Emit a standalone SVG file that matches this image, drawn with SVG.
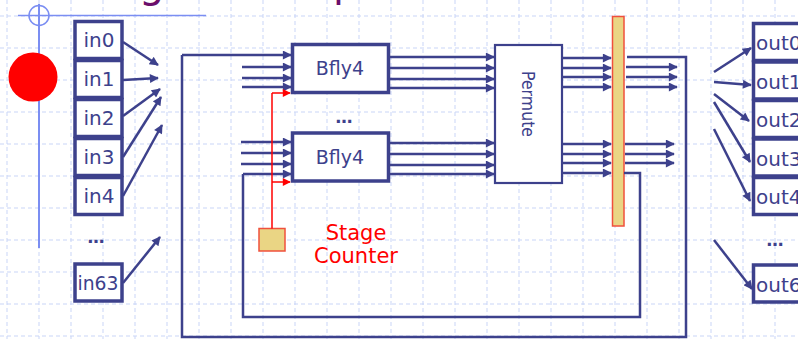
<svg xmlns="http://www.w3.org/2000/svg" width="798" height="339" viewBox="0 0 798 339">
<style>
.grid line{stroke:#c9d5f7;stroke-width:1;stroke-dasharray:4 3}
.box{fill:#fff;stroke:#3d418c;stroke-width:3.5}
.lbl{font-family:"DejaVu Sans",Verdana,sans-serif;font-size:20px;fill:#3d418c}
.blbl{font-family:"DejaVu Sans",Verdana,sans-serif;font-size:19px;fill:#3d418c;text-anchor:middle}
.w{stroke:#3d418c;stroke-width:2.5;fill:none}
.wa{stroke:#3d418c;stroke-width:2.5;fill:none;marker-end:url(#ah)}
.ra{stroke:#ff0000;stroke-width:1.5;fill:none}
.dots{font-family:"DejaVu Sans",Verdana,sans-serif;font-size:17px;font-weight:bold;fill:#3d418c;text-anchor:middle}
.reg{fill:#ead584;stroke:#f0503c;stroke-width:1.5}
</style>
<defs>
<marker id="ah" viewBox="0 0 10 10" refX="9" refY="5" markerWidth="11" markerHeight="9" markerUnits="userSpaceOnUse" orient="auto">
<path d="M0,0 L10,5 L0,10 z" fill="#3d418c"/>
</marker>
<marker id="rh" viewBox="0 0 10 10" refX="9" refY="5" markerWidth="10" markerHeight="8" markerUnits="userSpaceOnUse" orient="auto">
<path d="M0,0 L10,5 L0,10 z" fill="#ff0000"/>
</marker>
</defs>
<rect width="798" height="339" fill="#ffffff"/>
<g class="grid">
<line x1="7" y1="0" x2="7" y2="339"/><line x1="39" y1="0" x2="39" y2="339"/><line x1="71" y1="0" x2="71" y2="339"/><line x1="103" y1="0" x2="103" y2="339"/><line x1="135" y1="0" x2="135" y2="339"/><line x1="167" y1="0" x2="167" y2="339"/><line x1="199" y1="0" x2="199" y2="339"/><line x1="231" y1="0" x2="231" y2="339"/><line x1="263" y1="0" x2="263" y2="339"/><line x1="295" y1="0" x2="295" y2="339"/><line x1="327" y1="0" x2="327" y2="339"/><line x1="359" y1="0" x2="359" y2="339"/><line x1="391" y1="0" x2="391" y2="339"/><line x1="423" y1="0" x2="423" y2="339"/><line x1="455" y1="0" x2="455" y2="339"/><line x1="487" y1="0" x2="487" y2="339"/><line x1="519" y1="0" x2="519" y2="339"/><line x1="551" y1="0" x2="551" y2="339"/><line x1="583" y1="0" x2="583" y2="339"/><line x1="615" y1="0" x2="615" y2="339"/><line x1="647" y1="0" x2="647" y2="339"/><line x1="679" y1="0" x2="679" y2="339"/><line x1="711" y1="0" x2="711" y2="339"/><line x1="743" y1="0" x2="743" y2="339"/><line x1="775" y1="0" x2="775" y2="339"/>
<line x1="0" y1="16" x2="798" y2="16"/><line x1="0" y1="48" x2="798" y2="48"/><line x1="0" y1="80" x2="798" y2="80"/><line x1="0" y1="112" x2="798" y2="112"/><line x1="0" y1="144" x2="798" y2="144"/><line x1="0" y1="176" x2="798" y2="176"/><line x1="0" y1="208" x2="798" y2="208"/><line x1="0" y1="240" x2="798" y2="240"/><line x1="0" y1="272" x2="798" y2="272"/><line x1="0" y1="304" x2="798" y2="304"/><line x1="0" y1="336" x2="798" y2="336"/>
</g>
<g id="decor">
<line x1="18" y1="15.5" x2="206" y2="15.5" stroke="#7b8ef2" stroke-width="1.5"/>
<line x1="39" y1="4" x2="39" y2="248" stroke="#7b8ef2" stroke-width="2"/>
<circle cx="39" cy="15.5" r="10" fill="none" stroke="#7b8ef2" stroke-width="1.5"/>
<circle cx="33" cy="77" r="24.5" fill="#ff0000"/>
<text x="139" y="-3.5" font-family="DejaVu Sans,Verdana,sans-serif" font-size="40" fill="#6b0f6b">g</text>
<text x="333" y="-4" font-family="DejaVu Sans,Verdana,sans-serif" font-size="40" fill="#6b0f6b">p</text>
</g>
<g id="in0"><rect class="box" x="75" y="21.5" width="47" height="37"/><text class="lbl" x="83.5" y="47">in0</text></g>
<g id="in1"><rect class="box" x="75" y="60.5" width="47" height="37"/><text class="lbl" x="83.5" y="86">in1</text></g>
<g id="in2"><rect class="box" x="75" y="99.5" width="47" height="37"/><text class="lbl" x="83.5" y="125">in2</text></g>
<g id="in3"><rect class="box" x="75" y="138.5" width="47" height="37"/><text class="lbl" x="83.5" y="164">in3</text></g>
<g id="in4"><rect class="box" x="75" y="177.5" width="47" height="37"/><text class="lbl" x="83.5" y="203">in4</text></g>
<text class="dots" x="96" y="243">…</text>
<g id="in63"><rect class="box" x="75" y="264" width="47" height="37"/><text class="lbl" x="77.5" y="290" textLength="41" lengthAdjust="spacingAndGlyphs">in63</text></g>
<g id="bfly4a"><rect class="box" x="292.5" y="44.5" width="96" height="48"/><text class="blbl" x="340" y="75">Bfly4</text></g>
<text class="dots" x="344" y="123">…</text>
<g id="bfly4b"><rect class="box" x="292.5" y="133" width="96" height="48"/><text class="blbl" x="340" y="163.5">Bfly4</text></g>
<g id="permute"><rect x="495" y="45" width="67" height="138" fill="#fff" stroke="#3d418c" stroke-width="2.2"/><text transform="translate(522,104) rotate(90)" font-family="DejaVu Sans,Verdana,sans-serif" font-size="17" fill="#3d418c" text-anchor="middle" textLength="66" lengthAdjust="spacingAndGlyphs">Permute</text></g>
<g id="register"><rect class="reg" x="612.5" y="16.5" width="11.5" height="209.5"/></g>
<g id="counter"><rect class="reg" x="259" y="228.5" width="26" height="22.5"/>
<text font-family="DejaVu Sans,Verdana,sans-serif" font-size="21" fill="#ff0000" text-anchor="middle"><tspan x="356" y="240">Stage</tspan><tspan x="356" y="263">Counter</tspan></text></g>
<g id="out0"><rect class="box" x="753.5" y="23.5" width="70" height="37"/><text class="lbl" x="756" y="50">out0</text></g>
<g id="out1"><rect class="box" x="753.5" y="62" width="70" height="37"/><text class="lbl" x="756" y="88.5">out1</text></g>
<g id="out2"><rect class="box" x="753.5" y="100.5" width="70" height="37"/><text class="lbl" x="756" y="127">out2</text></g>
<g id="out3"><rect class="box" x="753.5" y="139" width="70" height="37"/><text class="lbl" x="756" y="165.5">out3</text></g>
<g id="out4"><rect class="box" x="753.5" y="177.5" width="70" height="37"/><text class="lbl" x="756" y="204">out4</text></g>
<text class="dots" x="775" y="246">…</text>
<g id="out63"><rect class="box" x="753.5" y="265" width="70" height="37"/><text class="lbl" x="756" y="291.5">out63</text></g>
<g id="connectors">
<line class="wa" x1="123" y1="42" x2="158" y2="65"/>
<line class="wa" x1="123" y1="80" x2="158" y2="78"/>
<line class="wa" x1="123" y1="116" x2="160" y2="89"/>
<line class="wa" x1="123" y1="157" x2="161" y2="97"/>
<line class="wa" x1="123" y1="196" x2="162" y2="125"/>
<line class="wa" x1="123" y1="283" x2="160" y2="237"/>
<polyline class="w" points="627,57 686,57 686,337 182,337 182,55"/>
<line class="wa" x1="182" y1="55" x2="291" y2="55"/>
<line class="wa" x1="242" y1="67" x2="291" y2="67"/>
<line class="wa" x1="242" y1="78" x2="291" y2="78"/>
<line class="wa" x1="242" y1="87" x2="291" y2="87"/>
<polyline class="w" points="624,173 640,173 640,317 243,317 243,174"/>
<line class="wa" x1="243" y1="174" x2="291" y2="174"/>
<line class="wa" x1="241" y1="142" x2="291" y2="142"/>
<line class="wa" x1="241" y1="153" x2="291" y2="153"/>
<line class="wa" x1="241" y1="164" x2="291" y2="164"/>
<line class="wa" x1="390" y1="57" x2="494" y2="57"/>
<line class="wa" x1="390" y1="68" x2="494" y2="68"/>
<line class="wa" x1="390" y1="79" x2="494" y2="79"/>
<line class="wa" x1="390" y1="88" x2="494" y2="88"/>
<line class="wa" x1="390" y1="143" x2="494" y2="143"/>
<line class="wa" x1="390" y1="154" x2="494" y2="154"/>
<line class="wa" x1="390" y1="165" x2="494" y2="165"/>
<line class="wa" x1="390" y1="174" x2="494" y2="174"/>
<line class="wa" x1="562" y1="58" x2="611" y2="58"/>
<line class="wa" x1="562" y1="68" x2="611" y2="68"/>
<line class="wa" x1="562" y1="77" x2="611" y2="77"/>
<line class="wa" x1="562" y1="87" x2="611" y2="87"/>
<line class="wa" x1="562" y1="144" x2="611" y2="144"/>
<line class="wa" x1="562" y1="154" x2="611" y2="154"/>
<line class="wa" x1="562" y1="163" x2="611" y2="163"/>
<line class="wa" x1="562" y1="173" x2="611" y2="173"/>
<line class="wa" x1="626" y1="67" x2="677" y2="67"/>
<line class="wa" x1="626" y1="77" x2="677" y2="77"/>
<line class="wa" x1="626" y1="87" x2="677" y2="87"/>
<line class="wa" x1="625" y1="144" x2="674" y2="144"/>
<line class="wa" x1="625" y1="154" x2="674" y2="154"/>
<line class="wa" x1="625" y1="163" x2="674" y2="163"/>
<line class="wa" x1="714" y1="72" x2="751" y2="48"/>
<line class="wa" x1="714" y1="82" x2="751" y2="85"/>
<line class="wa" x1="714" y1="94" x2="749" y2="121"/>
<line class="wa" x1="714" y1="102" x2="750" y2="162"/>
<line class="wa" x1="714" y1="129" x2="750" y2="201"/>
<line class="wa" x1="714" y1="240" x2="752" y2="289"/>
<line class="ra" x1="272" y1="228.5" x2="272" y2="93"/>
<line class="ra" x1="272" y1="93" x2="290" y2="93" marker-end="url(#rh)"/>
<line class="ra" x1="272" y1="182" x2="290" y2="182" marker-end="url(#rh)"/>
</g>
</svg>
